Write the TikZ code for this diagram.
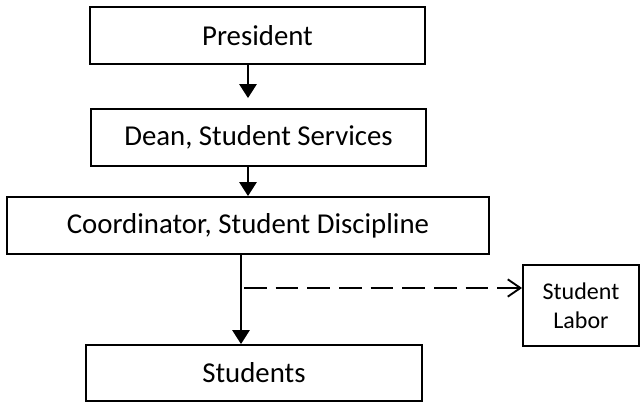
\documentclass[tikz,border=0pt]{standalone}
\usepackage{fontspec}
\setmainfont{Carlito}
\usetikzlibrary{arrows.meta}
\begin{document}
\begin{tikzpicture}[x=0.75pt,y=-0.75pt,
  box/.style={draw, line width=1.4pt, rectangle, inner sep=0pt,
    font=\fontsize{21.6}{26}\selectfont},
  smallbox/.style={box, align=center, font=\fontsize{18}{21.6}\selectfont},
  flow/.style={line width=1.4pt, -{Triangle[length=10.5pt,width=13pt]}},
  side/.style={line width=1.4pt, dash pattern=on 17pt off 6.75pt,
    -{Straight Barb[length=9.5pt,width=13pt,line width=1.4pt]}}]
\useasboundingbox (0,0) rectangle (640,402);

% chain of offices
\node[box, minimum width=251.25pt, minimum height=42.75pt] (pres) at (257.5,35.5) {President};
\node[box, minimum width=251.25pt, minimum height=42.75pt] (dean) at (258.5,137.5) {Dean, Student Services};
\node[box, minimum width=361.5pt, minimum height=42.75pt] (coord) at (248,225.5) {Coordinator, Student Discipline};
\node[box, minimum width=252pt, minimum height=42pt] (stud) at (254,373) {Students};
\node[smallbox, minimum width=87pt, minimum height=60.75pt] (labor) at (581,305.5) {Student\\Labor};

% columns the connectors run along
\coordinate (upper) at (248,0);
\coordinate (lower) at (241,0);
\coordinate (branch) at (244,288);

\draw[flow, shorten >=7.5pt] (pres.south -| upper) -- (dean.north -| upper);
\draw[flow] (dean.south -| upper) -- (coord.north -| upper);
\draw[flow] (coord.south -| lower) -- (stud.north -| lower);
\draw[side] (branch) -- (labor.west |- branch);
\end{tikzpicture}
\end{document}
